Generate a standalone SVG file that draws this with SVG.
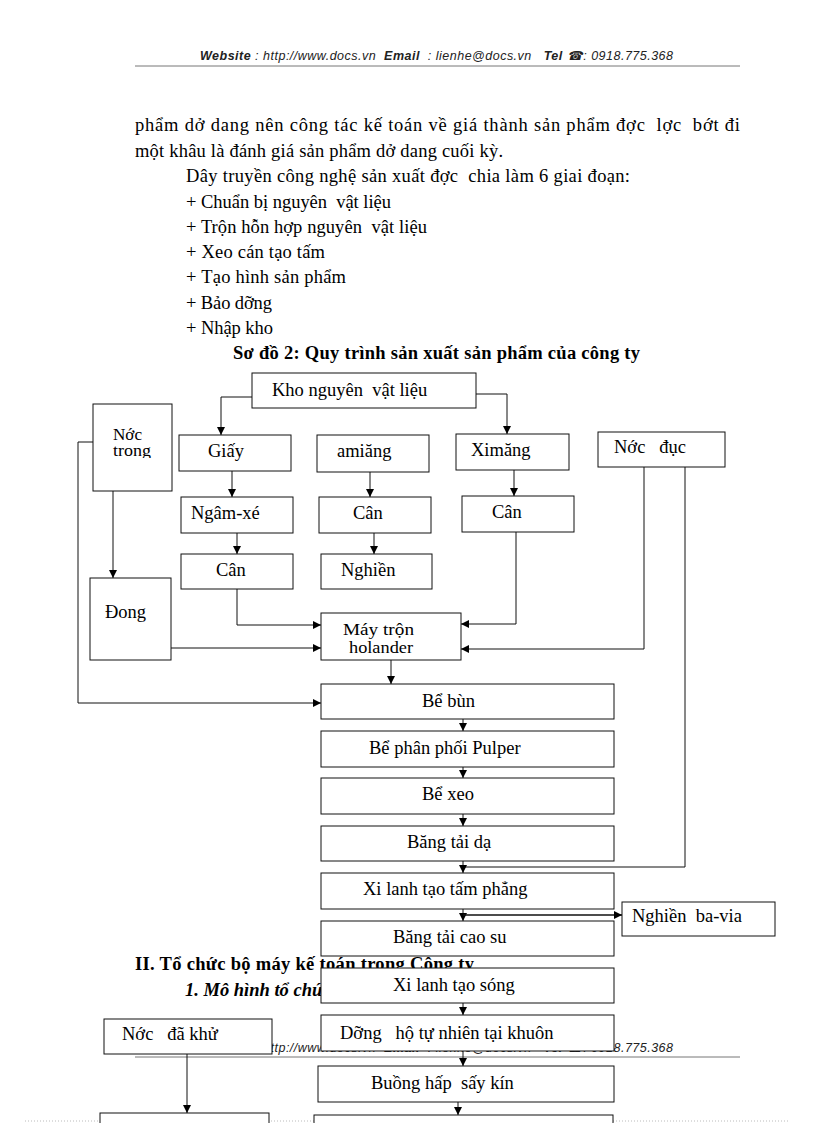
<svg xmlns="http://www.w3.org/2000/svg" width="816" height="1123" viewBox="0 0 816 1123">
<style>
.pg{font-family:"Liberation Serif","Times New Roman",serif;font-size:18.5px;fill:#000;white-space:pre}
.hdr{font-family:"Liberation Sans",Arial,sans-serif;font-style:italic;font-size:12.5px;fill:#222;white-space:pre}
.b{font-weight:bold}
.box{fill:#fff;stroke:#111;stroke-width:1}
.lbl{font-family:"Liberation Serif","Times New Roman",serif;font-size:18.5px;fill:#000;white-space:pre}
.lbl2{font-family:"Liberation Serif","Times New Roman",serif;font-size:16px;fill:#000;white-space:pre}
.con{fill:none;stroke:#111;stroke-width:1}
.rule{stroke:#777;stroke-width:1}
</style>
<defs>
<marker id="ah" markerUnits="userSpaceOnUse" markerWidth="9" markerHeight="8" refX="8" refY="4" orient="auto">
<path d="M0,0 L8,4 L0,8 z" fill="#000"/>
</marker>
<clipPath id="ntclip"><rect x="93" y="404" width="79" height="54"/></clipPath>
</defs>

<!-- page header -->
<text class="hdr" x="200" y="60" textLength="473" lengthAdjust="spacing"><tspan class="b">Website</tspan> : http://www.docs.vn  <tspan class="b">Email</tspan>  : lienhe@docs.vn   <tspan class="b">Tel</tspan> ☎: 0918.775.368</text>
<line class="rule" x1="135" y1="66" x2="740" y2="66"/>

<!-- page text -->
<text class="pg" x="135" y="131" textLength="605" lengthAdjust="spacing">phẩm dở dang nên công tác kế toán về giá thành sản phẩm đợc  lợc  bớt đi</text>
<text class="pg" x="135" y="157" textLength="368" lengthAdjust="spacing">một khâu là đánh giá sản phẩm dở dang cuối kỳ.</text>
<text class="pg" x="186" y="182" textLength="444" lengthAdjust="spacing">Dây truyền công nghệ sản xuất đợc  chia làm 6 giai đoạn:</text>
<text class="pg" x="186" y="208" textLength="205" lengthAdjust="spacing">+ Chuẩn bị nguyên  vật liệu</text>
<text class="pg" x="186" y="233" textLength="241" lengthAdjust="spacing">+ Trộn hỗn hợp nguyên  vật liệu</text>
<text class="pg" x="186" y="258" textLength="139" lengthAdjust="spacing">+ Xeo cán tạo tấm</text>
<text class="pg" x="186" y="283" textLength="160" lengthAdjust="spacing">+ Tạo hình sản phẩm</text>
<text class="pg" x="186" y="309" textLength="86" lengthAdjust="spacing">+ Bảo dỡng</text>
<text class="pg" x="186" y="334" textLength="87" lengthAdjust="spacing">+ Nhập kho</text>
<text class="pg b" x="233" y="359" textLength="407" lengthAdjust="spacing">Sơ đồ 2: Quy trình sản xuất sản phẩm của công ty</text>

<text class="pg b" x="135" y="970" textLength="339" lengthAdjust="spacing">II. Tổ chức bộ máy kế toán trong Công ty</text>
<text class="pg b" x="185" y="996" font-style="italic">1. Mô hình tổ chức</text>

<!-- page footer -->
<text class="hdr" x="200" y="1052" textLength="473" lengthAdjust="spacing"><tspan class="b">Website</tspan> : http://www.docs.vn  <tspan class="b">Email</tspan>  : lienhe@docs.vn   <tspan class="b">Tel</tspan> ☎: 0918.775.368</text>
<line class="rule" x1="135" y1="1057" x2="740" y2="1057"/>
<line x1="25" y1="1121" x2="790" y2="1121" stroke="#bbb" stroke-width="1" stroke-dasharray="1,2"/>

<!-- connectors -->
<g id="connectors" class="con">
<path d="M252,397 H221 V435" marker-end="url(#ah)"/>
<path d="M476,394 H507 V434" marker-end="url(#ah)"/>
<path d="M93,442 H78 V703 H321" marker-end="url(#ah)"/>
<path d="M113,491 V578" marker-end="url(#ah)"/>
<path d="M171,648 H321" marker-end="url(#ah)"/>
<path d="M232,471 V497" marker-end="url(#ah)"/>
<path d="M237,533 V554" marker-end="url(#ah)"/>
<path d="M237,589 V625 H321" marker-end="url(#ah)"/>
<path d="M370,472 V497" marker-end="url(#ah)"/>
<path d="M374,533 V554" marker-end="url(#ah)"/>
<path d="M514,470 V496" marker-end="url(#ah)"/>
<path d="M516,532 V624 H461" marker-end="url(#ah)"/>
<path d="M644,467 V649 H461" marker-end="url(#ah)"/>
<path d="M685,467 V867 H463"/>
<path d="M391,660 V684" marker-end="url(#ah)"/>
<path d="M463,719 V731" marker-end="url(#ah)"/>
<path d="M463,767 V778" marker-end="url(#ah)"/>
<path d="M463,814 V826" marker-end="url(#ah)"/>
<path d="M463,861 V873" marker-end="url(#ah)"/>
<path d="M463,909 V921" marker-end="url(#ah)"/>
<path d="M463,915 H622" stroke-width="1.5" marker-end="url(#ah)"/>
<path d="M463,1003 V1015" marker-end="url(#ah)"/>
<path d="M463,1051 V1066" marker-end="url(#ah)"/>
<path d="M458,1102 V1115" marker-end="url(#ah)"/>
<path d="M187,1054 V1113" marker-end="url(#ah)"/>
</g>

<!-- nodes -->
<g id="kho"><rect class="box" x="252" y="373" width="224" height="35"/><text class="lbl" x="272" y="396">Kho nguyên  vật liệu</text></g>
<g id="nuoc-trong"><rect class="box" x="93" y="404" width="79" height="87"/><g clip-path="url(#ntclip)"><text class="lbl2" x="113" y="440" textLength="29" lengthAdjust="spacingAndGlyphs">Nớc</text><text class="lbl2" x="113" y="456" textLength="38" lengthAdjust="spacingAndGlyphs">trong</text></g></g>
<g id="giay"><rect class="box" x="179" y="435" width="112" height="36"/><text class="lbl" x="208" y="457">Giấy</text></g>
<g id="amiang"><rect class="box" x="317" y="435" width="112" height="37"/><text class="lbl" x="337" y="457">amiăng</text></g>
<g id="ximang"><rect class="box" x="456" y="434" width="113" height="36"/><text class="lbl" x="471" y="456">Ximăng</text></g>
<g id="nuoc-duc"><rect class="box" x="598" y="432" width="127" height="35"/><text class="lbl" x="614" y="453">Nớc   đục</text></g>
<g id="ngam-xe"><rect class="box" x="181" y="497" width="112" height="36"/><text class="lbl" x="191" y="519">Ngâm-xé</text></g>
<g id="can-giay"><rect class="box" x="181" y="554" width="112" height="35"/><text class="lbl" x="216" y="576">Cân</text></g>
<g id="can-amiang"><rect class="box" x="319" y="497" width="112" height="36"/><text class="lbl" x="353" y="519">Cân</text></g>
<g id="nghien"><rect class="box" x="321" y="554" width="111" height="35"/><text class="lbl" x="341" y="576">Nghiền</text></g>
<g id="can-ximang"><rect class="box" x="462" y="496" width="112" height="36"/><text class="lbl" x="492" y="518">Cân</text></g>
<g id="dong"><rect class="box" x="90" y="578" width="81" height="82"/><text class="lbl" x="105" y="618">Đong</text></g>
<g id="may-tron"><rect class="box" x="321" y="613" width="140" height="47"/><text class="lbl2" x="343" y="635" textLength="71" lengthAdjust="spacingAndGlyphs">Máy trộn</text><text class="lbl2" x="349" y="653" textLength="64" lengthAdjust="spacingAndGlyphs">holander</text></g>
<g id="be-bun"><rect class="box" x="321" y="684" width="293" height="35"/><text class="lbl" x="422" y="707">Bể bùn</text></g>
<g id="be-phan-phoi"><rect class="box" x="321" y="731" width="293" height="36"/><text class="lbl" x="369" y="754">Bể phân phối Pulper</text></g>
<g id="be-xeo"><rect class="box" x="321" y="778" width="293" height="36"/><text class="lbl" x="422" y="800">Bể xeo</text></g>
<g id="bang-tai-da"><rect class="box" x="321" y="826" width="293" height="35"/><text class="lbl" x="407" y="848">Băng tải dạ</text></g>
<g id="xi-lanh-phang"><rect class="box" x="321" y="873" width="293" height="36"/><text class="lbl" x="363" y="895">Xi lanh tạo tấm phẳng</text></g>
<g id="nghien-bavia"><rect class="box" x="622" y="902" width="153" height="34"/><text class="lbl" x="632" y="922">Nghiền  ba-via</text></g>
<g id="bang-tai-cao-su"><rect class="box" x="321" y="921" width="293" height="35"/><text class="lbl" x="393" y="943">Băng tải cao su</text></g>
<g id="xi-lanh-song"><rect class="box" x="321" y="968" width="293" height="35"/><text class="lbl" x="393" y="991">Xi lanh tạo sóng</text></g>
<g id="duong-ho"><rect class="box" x="321" y="1015" width="293" height="36"/><text class="lbl" x="340" y="1039">Dỡng   hộ tự nhiên tại khuôn</text></g>
<g id="nuoc-da-khu"><rect class="box" x="104" y="1019" width="168" height="35"/><text class="lbl" x="122" y="1040">Nớc   đã khử</text></g>
<g id="buong-hap"><rect class="box" x="318" y="1066" width="296" height="36"/><text class="lbl" x="371" y="1089">Buồng hấp  sấy kín</text></g>
<g id="box-bottom-left"><rect class="box" x="100" y="1113" width="169" height="20"/></g>
<g id="box-bottom-right"><rect class="box" x="314" y="1115" width="299" height="20"/></g>
</svg>
